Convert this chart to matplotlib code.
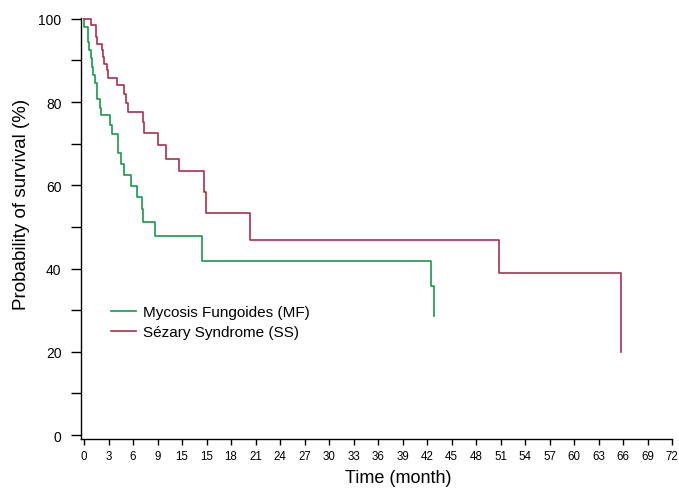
import matplotlib
matplotlib.use("Agg")
import matplotlib.pyplot as plt

plt.rcParams['font.family'] = ['Liberation Sans', 'DejaVu Sans']

# Kaplan-Meier step data (time in months, survival in %)
mf_time = [0, 0.0, 0.45, 0.65, 0.81, 0.95, 1.08, 1.38, 1.65, 1.9, 2.1, 3.15, 3.46,
           4.1, 4.5, 4.94, 5.76, 6.45, 7.06, 7.2, 8.7, 14.44, 42.5, 42.9]
mf_surv = [100, 98.0, 94.4, 92.6, 90.6, 88.5, 86.5, 84.5, 80.8, 78.5, 76.8, 74.4, 72.4,
           67.7, 65.0, 62.5, 59.8, 57.3, 54.3, 51.1, 47.9, 41.7, 35.9, 28.7]

ss_time = [0, 0.9, 1.45, 1.55, 2.16, 2.28, 2.4, 2.77, 2.92, 4.0, 4.92, 5.2, 5.4,
           7.18, 7.32, 9.05, 10.02, 11.6, 14.65, 14.98, 20.3, 50.8, 65.8]
ss_surv = [100, 98.6, 95.6, 94.0, 92.4, 90.8, 89.2, 87.6, 85.8, 84.0, 82.0, 79.8, 77.7,
           75.1, 72.6, 69.7, 66.4, 63.5, 58.3, 53.4, 46.9, 39.0, 19.9]

series_labels = ["Mycosis Fungoides (MF)", "Sézary Syndrome (SS)"]
series_colors = ["#17994f", "#a8304f"]

x_ticks = list(range(0, 73, 3))
x_tick_labels = ["0", "3", "6", "9", "15", "15", "18", "21", "24", "27", "30", "33", "36",
                 "39", "42", "45", "48", "51", "54", "57", "60", "63", "66", "69", "72"]
y_major = [0, 20, 40, 60, 80, 100]
y_minor = [10, 30, 50, 70, 90]

fig = plt.figure(figsize=(6.79, 4.89), dpi=100)
ax = fig.add_axes([81 / 679, 1 - 440 / 489, (672 - 81) / 679, (440 - 19) / 489])

ax.step(mf_time, mf_surv, where='post', color=series_colors[0], lw=1.2,
        label=series_labels[0])
ax.step(ss_time, ss_surv, where='post', color=series_colors[1], lw=1.2,
        label=series_labels[1])

ax.set_xlim(-0.37, 72)
ax.set_ylim(-0.96, 100.2)

ax.spines['top'].set_visible(False)
ax.spines['right'].set_visible(False)
for s in ('left', 'bottom'):
    ax.spines[s].set_linewidth(1.0)

ax.set_xticks(x_ticks)
ax.set_xticklabels(x_tick_labels, fontsize=8.3)
ax.set_yticks(y_major)
ax.set_yticklabels([str(v) for v in y_major], fontsize=10)
ax.set_yticks(y_minor, minor=True)
ax.tick_params(axis='y', which='both', length=7, width=1.0, direction='out', pad=7)
ax.tick_params(axis='x', which='both', length=4, width=1.0, direction='out', pad=4)

ax.set_xlabel("Time (month)", fontsize=13)
ax.xaxis.set_label_coords(0.536, -0.071)
ax.set_ylabel("Probability of survival (%)", fontsize=13.5)
ax.yaxis.set_label_coords(-0.087, 0.56)

leg = ax.legend(loc='upper left', bbox_to_anchor=(111 / 679, 1 - 306 / 489),
                bbox_transform=fig.transFigure, frameon=False, fontsize=11,
                handlelength=1.65, handletextpad=0.45, borderpad=0, borderaxespad=0,
                labelspacing=0.4)

fig.savefig("out.png", dpi=100)
